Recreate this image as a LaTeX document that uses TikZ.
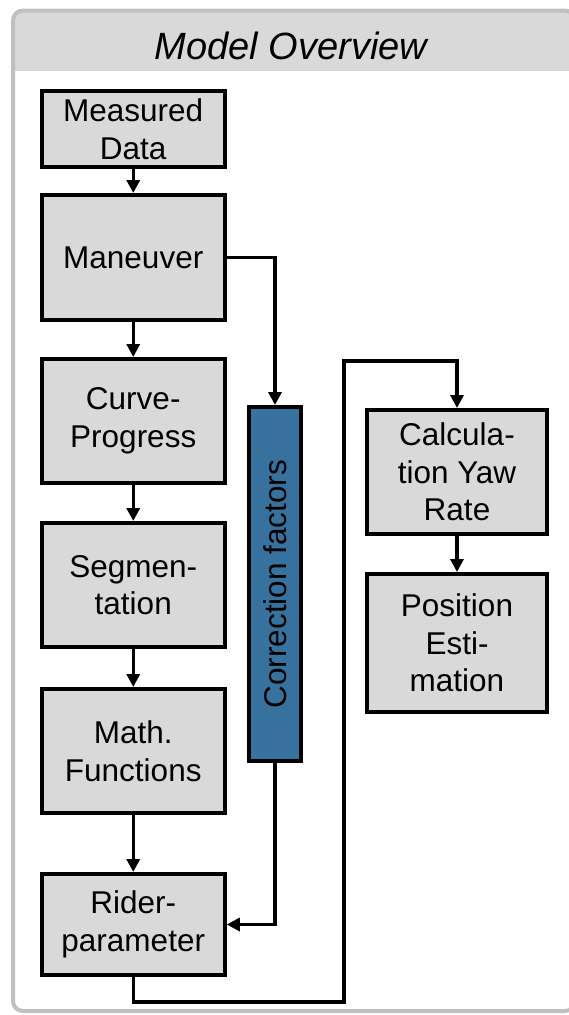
\documentclass[tikz,border=0pt]{standalone}
\usepackage{fontspec}
\setmainfont{Liberation Sans}
\usetikzlibrary{arrows.meta, positioning}
\definecolor{boxgray}{HTML}{D9D9D9}
\definecolor{framegray}{HTML}{C0C0C0}
\definecolor{corrblue}{RGB}{55,114,158}

\begin{document}
\begin{tikzpicture}[
  x=1pt, y=-1pt,
  box/.style={draw, line width=4pt, fill=boxgray, align=center, inner sep=0pt,
              minimum width=183pt, font=\fontsize{31.5}{37.5}\selectfont},
  corr/.style={box, fill=corrblue, minimum width=52pt, minimum height=354pt},
  flow/.style={-{Triangle[length=13pt, width=13pt]}, line width=3.3pt},
  ttl/.style={font=\fontsize{38}{45}\selectfont\itshape, anchor=base}
]
\useasboundingbox (0,0) rectangle (569,1015);
\begin{scope}
  \clip[rounded corners=10pt] (13,10.5) rectangle (575,1011);
  \fill[boxgray] (13,10.5) rectangle (575,71);
\end{scope}
\draw[framegray, line width=4pt, rounded corners=10pt] (13,10.5) rectangle (575,1011);
\node[ttl] (title) at (291,59) {Model Overview};

\node[box, minimum height=76pt] (meas) at (133.25,129) {Measured\\Data};
\node[box, minimum height=125pt, below=24pt of meas] (man) {Maneuver};
\node[box, minimum height=124pt, below=35pt of man] (curve) {Curve-\\Progress};
\node[box, minimum height=124pt, below=36pt of curve] (seg) {Segmen-\\tation};
\node[box, minimum height=124pt, below=38pt of seg] (math) {Math.\\Functions};
\node[box, minimum height=101pt, below=57pt of math] (rider) {Rider-\\parameter};
\node[corr] (cf) at (275,584) {\rotatebox{90}{Correction factors}};
\node[box, minimum width=180pt, minimum height=124pt] (calc) at (457,472) {Calcula-\\tion Yaw\\Rate};
\node[box, minimum width=180pt, minimum height=138pt, below=36pt of calc] (pos) {Position\\Esti-\\mation};

\coordinate (loopb) at (344,1002);
\coordinate (loopt) at (344,361);

\draw[flow] (meas) -- (man);
\draw[flow] (man) -- (curve);
\draw[flow] (curve) -- (seg);
\draw[flow] (seg) -- (math);
\draw[flow] (math) -- (rider);
\draw[flow] (man.east) -| (cf.north);
\draw[flow] (cf.south) |- (rider.east);
\draw[flow] (rider.south) |- (loopb) -- (loopt) -| (calc.north);
\draw[flow] (calc) -- (pos);
\end{tikzpicture}
\end{document}
